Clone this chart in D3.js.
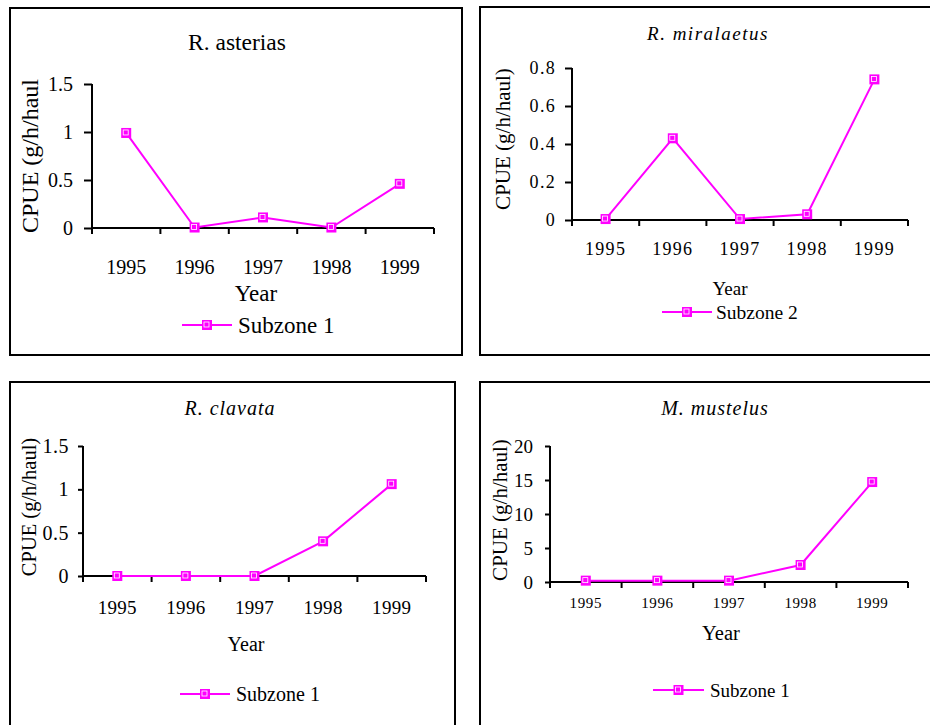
<!DOCTYPE html>
<html><head><meta charset="utf-8">
<script src="https://cdn.jsdelivr.net/npm/d3@7/dist/d3.min.js"></script>
<style>
html,body{margin:0;padding:0;background:#fff;}
svg, svg text{font-family:'Liberation Serif','Times New Roman',Times,serif !important;}
</style></head>
<body>
<svg id="chart" width="930" height="725" font-family="Liberation Serif"></svg>
<script>
// ---- data ----
const years = ["1995", "1996", "1997", "1998", "1999"];
const titles = ["R. asterias", "R. miralaetus", "R. clavata", "M. mustelus"];
const legendLabels = ["Subzone 1", "Subzone 2", "Subzone 1", "Subzone 1"];
const asterias = [0.99, 0.005, 0.11, 0.005, 0.46];
const miralaetus = [0.005, 0.43, 0.005, 0.03, 0.74];
const clavata = [0, 0, 0, 0.40, 1.06];
const mustelus = [0.2, 0.2, 0.2, 2.5, 14.7];
const ticksA = [0, 0.5, 1, 1.5];
const ticksB = [0, 0.2, 0.4, 0.6, 0.8];
const ticksC = [0, 0.5, 1, 1.5];
const ticksD = [0, 5, 10, 15, 20];
const yTitles = ["CPUE (g/h/haul", "CPUE (g/h/haul)", "CPUE (g/h/haul)", "CPUE (g/h/haul)"];

const MAG = "#ff00ff";
const FONT = "Liberation Serif";
const svg = d3.select("#chart");

// layout (positions only)
const panels = [
  {box:[10,8,462,355], x0:92, x1:434, yTop:84, yZero:228, tickLen:8, tickPad:11, italic:false,
   title:{x:237,y:42,size:23.5,ls:0}, tickFont:{size:20,ls:0}, yearFont:{size:20,ls:0,y:267},
   xTitle:{x:256,y:293,size:23}, legend:{l0:182,l1:232,y:325,tx:238,size:23},
   yTitle:{x:30,y:156,size:24}, data:asterias, ticks:ticksA},
  {box:[480,7,935,355], x0:572, x1:908, yTop:68, yZero:220, tickLen:7, tickPad:9, italic:true,
   title:{x:708,y:33,size:19,ls:1.5}, tickFont:{size:18,ls:1.3}, yearFont:{size:18,ls:1.3,y:249},
   xTitle:{x:730,y:288,size:19}, legend:{l0:662,l1:712,y:312,tx:716,size:19.5},
   yTitle:{x:503,y:139,size:21}, data:miralaetus, ticks:ticksB},
  {box:[10,382,455,735], x0:83, x1:426, yTop:446, yZero:576, tickLen:5, tickPad:9, italic:true,
   title:{x:230,y:408,size:20,ls:1}, tickFont:{size:20,ls:0.5}, yearFont:{size:19,ls:0.3,y:607},
   xTitle:{x:246,y:644,size:20}, legend:{l0:180,l1:230,y:694,tx:236,size:20},
   yTitle:{x:29,y:507,size:20.5}, data:clavata, ticks:ticksC},
  {box:[480,382,935,735], x0:550, x1:908, yTop:446, yZero:582, tickLen:5, tickPad:12, italic:true,
   title:{x:715,y:408,size:20,ls:1}, tickFont:{size:19,ls:0}, yearFont:{size:15,ls:0.6,y:603},
   xTitle:{x:721,y:633,size:20.5}, legend:{l0:653,l1:704,y:690,tx:710,size:19},
   yTitle:{x:500,y:510,size:21}, data:mustelus, ticks:ticksD}
];

function marker(g, cx, cy) {
  g.append("rect").attr("x", cx-5).attr("y", cy-5).attr("width", 10).attr("height", 10)
    .attr("fill", MAG);
  g.append("rect").attr("x", cx-3).attr("y", cy-3).attr("width", 5).attr("height", 5)
    .attr("fill", "none").attr("stroke", "#fff").attr("stroke-width", 0.8);
}

panels.forEach((p, i) => {
  const g = svg.append("g").attr("font-family", FONT);
  const [bx0, by0, bx1, by1] = p.box;
  g.append("rect").attr("x", bx0).attr("y", by0).attr("width", bx1-bx0).attr("height", by1-by0)
    .attr("fill", "none").attr("stroke", "#000").attr("stroke-width", 2);

  // title
  g.append("text").attr("x", p.title.x).attr("y", p.title.y)
    .attr("text-anchor", "middle").attr("dominant-baseline", "central")
    .attr("font-family", FONT)
    .attr("font-size", p.title.size).attr("letter-spacing", p.title.ls)
    .attr("font-style", p.italic ? "italic" : "normal").text(titles[i]);

  const x = d3.scaleBand().domain(years).range([p.x0, p.x1]).padding(0);
  const maxT = p.ticks[p.ticks.length-1];
  const y = d3.scaleLinear().domain([0, maxT]).range([p.yZero, p.yTop]);

  // y axis
  const ya = g.append("g").attr("transform", `translate(${p.x0},0)`)
    .call(d3.axisLeft(y).tickValues(p.ticks).tickSize(p.tickLen).tickPadding(p.tickPad)
      .tickFormat(d => String(d)));
  ya.attr("font-family", FONT);
  ya.select(".domain").attr("stroke-width", 2).attr("d", `M0,${p.yTop}V${p.yZero}`);
  ya.selectAll(".tick line").attr("stroke-width", 2);
  ya.selectAll(".tick text").attr("font-family", FONT).attr("font-size", p.tickFont.size)
    .attr("letter-spacing", p.tickFont.ls).attr("fill", "#000");

  // x axis: labels at band centers
  const xa = g.append("g").attr("transform", `translate(0,${p.yZero})`)
    .call(d3.axisBottom(x).tickSize(0).tickPadding(0));
  xa.attr("font-family", FONT);
  xa.select(".domain").remove();
  xa.selectAll(".tick text").attr("font-family", FONT)
    .attr("font-size", p.yearFont.size).attr("letter-spacing", p.yearFont.ls)
    .attr("dy", null).attr("y", p.yearFont.y - p.yZero).attr("dominant-baseline", "central")
    .attr("fill", "#000");
  // boundary ticks
  const bounds = years.map(d => x(d)).concat([x(years[years.length-1]) + x.bandwidth()]);
  g.append("line").attr("x1", p.x0).attr("x2", p.x1).attr("y1", p.yZero).attr("y2", p.yZero)
    .attr("stroke", "#000").attr("stroke-width", 2);
  g.selectAll(null).data(bounds).enter().append("line")
    .attr("x1", d => d).attr("x2", d => d).attr("y1", p.yZero).attr("y2", p.yZero + 6)
    .attr("stroke", "#000").attr("stroke-width", 2);

  // x title
  g.append("text").attr("x", p.xTitle.x).attr("y", p.xTitle.y).attr("text-anchor", "middle")
    .attr("font-family", FONT)
    .attr("dominant-baseline", "central").attr("font-size", p.xTitle.size).text("Year");

  // y title
  g.append("text").attr("transform", `translate(${p.yTitle.x},${p.yTitle.y}) rotate(-90)`)
    .attr("font-family", FONT)
    .attr("text-anchor", "middle").attr("dominant-baseline", "central")
    .attr("font-size", p.yTitle.size).text(yTitles[i]);

  // line
  const line = d3.line().x((d, j) => x(years[j]) + x.bandwidth()/2).y(d => y(d));
  g.append("path").datum(p.data).attr("d", line).attr("fill", "none")
    .attr("stroke", MAG).attr("stroke-width", 2);
  p.data.forEach((d, j) => marker(g, x(years[j]) + x.bandwidth()/2, y(d)));

  // legend
  g.append("line").attr("x1", p.legend.l0).attr("x2", p.legend.l1)
    .attr("y1", p.legend.y).attr("y2", p.legend.y).attr("stroke", MAG).attr("stroke-width", 2);
  marker(g, (p.legend.l0 + p.legend.l1)/2, p.legend.y);
  g.append("text").attr("x", p.legend.tx).attr("y", p.legend.y).attr("dominant-baseline", "central")
    .attr("font-family", FONT)
    .attr("font-size", p.legend.size).text(legendLabels[i]);
});
</script>
</body></html>
